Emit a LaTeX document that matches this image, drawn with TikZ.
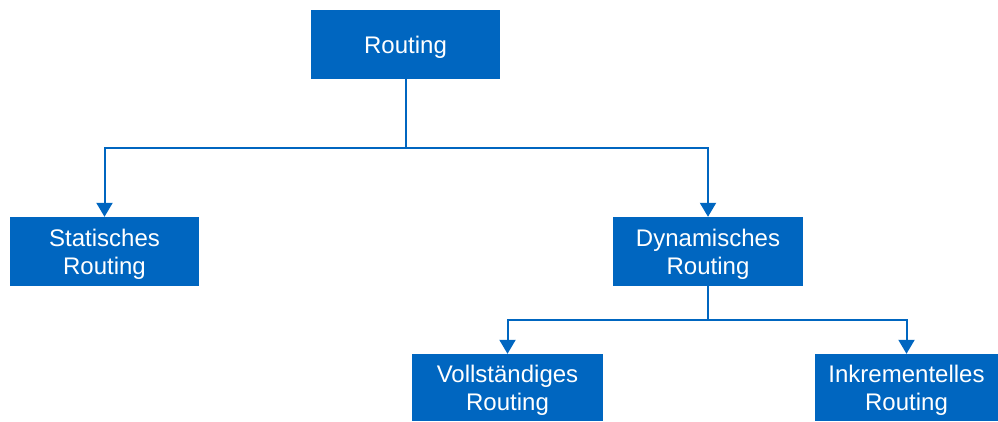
\documentclass[tikz,border=0pt]{standalone}
\usepackage{fontspec}
\setmainfont{Liberation Sans}
\usetikzlibrary{arrows.meta, positioning}
\definecolor{rtBlue}{HTML}{0066C0}
\tikzset{
  rtnode/.style={
    fill=rtBlue, draw=none, text=white, align=center, inner sep=0pt,
    minimum width=189pt, minimum height=69pt, text depth=0pt,
    font=\fontsize{24}{28}\selectfont
  },
  rtleaf/.style={rtnode, minimum height=67pt},
  rtline/.style={line width=2pt, rtBlue},
  rtarrow/.style={rtline, -{Triangle[length=14pt, width=16pt]}}
}
\begin{document}
\begin{tikzpicture}[x=1pt, y=-1pt]
  \useasboundingbox (0,0) rectangle (998,421);
  \node[rtnode] (routing) at (405.5,44.5) {Routing};
  \node[rtnode] (static) at (104.5,251.5) {Statisches\\Routing};
  \node[rtnode, minimum width=190pt] (dynamic) at (708,251.5) {Dynamisches\\Routing};
  \node[rtleaf, minimum width=191pt] (full) at (507.5,387.5) {Vollständiges\\Routing};
  \node[rtleaf, minimum width=183pt] (incr) at (906.5,387.5) {Inkrementelles\\Routing};
  % branching points
  \coordinate (split1) at (405.5,148);
  \coordinate (split2) at (708,320);
  \draw[rtline] (routing.south) -- (split1);
  \draw[rtarrow] (split1) -| (static.north);
  \draw[rtarrow] (split1) -| (dynamic.north);
  \draw[rtline] (dynamic.south) -- (split2);
  \draw[rtarrow] (split2) -| (full.north);
  \draw[rtarrow] (split2) -| (incr.north);
\end{tikzpicture}
\end{document}
